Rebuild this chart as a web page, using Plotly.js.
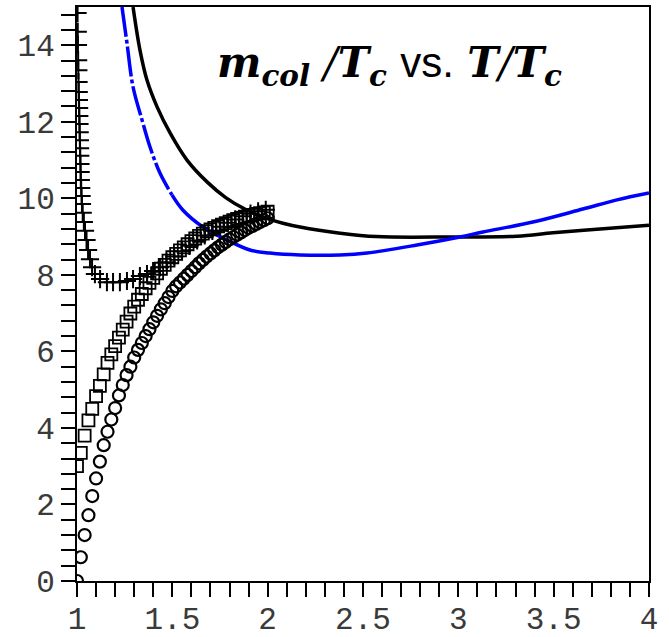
<!DOCTYPE html>
<html>
<head>
<meta charset="utf-8">
<script src="https://cdn.plot.ly/plotly-3.0.1.min.js"></script>
<style>html,body{margin:0;padding:0;background:#fff;}</style>
</head>
<body>
<div id="chart" style="width:669px;height:637px;"></div>
<script>
// x-axis tick labels
var xTickVals = [1, 1.5, 2, 2.5, 3, 3.5, 4];
var xTickText = ["1", "1.5", "2", "2.5", "3", "3.5", "4"];
var yTickVals = [0, 2, 4, 6, 8, 10, 12, 14];
var yTickText = ["0", "2", "4", "6", "8", "10", "12", "14"];

// black solid curve
var blackX = [1.294, 1.330, 1.367, 1.420, 1.488, 1.577, 1.682, 1.780, 1.880, 1.980, 2.080, 2.170, 2.380, 2.570, 2.960, 3.307, 3.496, 3.743, 4.0];
var blackY = [15.0, 13.88, 13.09, 12.39, 11.71, 11.0, 10.43, 10.02, 9.72, 9.50, 9.35, 9.25, 9.09, 9.00, 8.99, 9.01, 9.10, 9.20, 9.30];

// blue curve: dash-dot part
var blueDashX = [1.236, 1.262, 1.294, 1.341, 1.383, 1.435, 1.498];
var blueDashY = [15.0, 14.06, 12.91, 12.05, 11.34, 10.66, 10.09];
// blue curve: solid part
var blueSolidX = [1.498, 1.556, 1.661, 1.787, 1.907, 2.012, 2.169, 2.379, 2.521, 2.783, 3.008, 3.129, 3.391, 3.653, 3.832, 4.0];
var blueSolidY = [10.09, 9.69, 9.25, 8.91, 8.65, 8.57, 8.52, 8.52, 8.57, 8.78, 8.99, 9.12, 9.38, 9.72, 9.96, 10.14];

// plus markers
var plusX = [1.003, 1.004, 1.005, 1.006, 1.007, 1.008, 1.009, 1.010, 1.011, 1.012, 1.013, 1.014, 1.015, 1.016, 1.017, 1.018, 1.019, 1.020, 1.022, 1.024, 1.026, 1.030, 1.036, 1.042, 1.050, 1.058, 1.068, 1.079, 1.094, 1.121, 1.157, 1.189, 1.225, 1.262, 1.294, 1.330, 1.367, 1.399, 1.435, 1.47, 1.51, 1.55, 1.59, 1.63, 1.67, 1.71, 1.75, 1.79, 1.83, 1.87, 1.91, 1.95, 1.99];
var plusY = [14.84, 14.35, 14.01, 13.61, 13.35, 13.04, 12.78, 12.57, 12.36, 12.15, 11.94, 11.73, 11.52, 11.31, 11.11, 10.90, 10.69, 10.48, 10.27, 10.06, 9.85, 9.62, 9.38, 9.15, 8.91, 8.65, 8.41, 8.20, 8.02, 7.89, 7.81, 7.81, 7.81, 7.84, 7.89, 7.97, 8.02, 8.10, 8.20, 8.33, 8.48, 8.62, 8.76, 8.90, 9.03, 9.15, 9.26, 9.36, 9.45, 9.53, 9.60, 9.66, 9.70];

// squares and circles share the same T/Tc grid
var gridX = [1.00, 1.02, 1.04, 1.06, 1.08, 1.10, 1.12, 1.14, 1.16, 1.18, 1.20, 1.22, 1.24, 1.26, 1.28, 1.30, 1.32, 1.34, 1.36, 1.38, 1.40, 1.42, 1.44, 1.46, 1.48, 1.50, 1.52, 1.54, 1.56, 1.58, 1.60, 1.62, 1.64, 1.66, 1.68, 1.70, 1.72, 1.74, 1.76, 1.78, 1.80, 1.82, 1.84, 1.86, 1.88, 1.90, 1.92, 1.94, 1.96, 1.98, 2.00];
var squareY = [3.00, 3.35, 3.80, 4.20, 4.50, 4.83, 5.10, 5.40, 5.70, 5.92, 6.14, 6.36, 6.57, 6.78, 6.99, 7.17, 7.35, 7.50, 7.65, 7.79, 7.92, 8.04, 8.16, 8.26, 8.37, 8.46, 8.55, 8.64, 8.72, 8.80, 8.88, 8.95, 9.02, 9.08, 9.14, 9.19, 9.23, 9.27, 9.31, 9.35, 9.39, 9.43, 9.46, 9.49, 9.52, 9.55, 9.57, 9.59, 9.61, 9.63, 9.65];
var circleY = [0.00, 0.62, 1.20, 1.72, 2.22, 2.68, 3.12, 3.55, 3.90, 4.22, 4.52, 4.85, 5.12, 5.38, 5.60, 5.84, 6.04, 6.22, 6.40, 6.58, 6.76, 6.93, 7.10, 7.26, 7.42, 7.58, 7.70, 7.80, 7.90, 8.00, 8.10, 8.20, 8.30, 8.39, 8.48, 8.56, 8.64, 8.72, 8.79, 8.86, 8.93, 8.99, 9.05, 9.11, 9.17, 9.23, 9.28, 9.33, 9.38, 9.43, 9.48];

var traces = [
  {x: blackX, y: blackY, mode: 'lines', line: {color: '#000', width: 3.5, shape: 'spline', smoothing: 1}, hoverinfo: 'skip'},
  {x: blueDashX, y: blueDashY, mode: 'lines', line: {color: '#0000ff', width: 3.5, dash: '30px,3px,4px,3px', shape: 'spline'}, hoverinfo: 'skip'},
  {x: blueSolidX, y: blueSolidY, mode: 'lines', line: {color: '#0000ff', width: 3.5, shape: 'spline'}, hoverinfo: 'skip'},
  {x: plusX, y: plusY, mode: 'markers', marker: {symbol: 'cross-thin-open', size: 13, color: '#000', line: {color: '#000', width: 2}}, hoverinfo: 'skip'},
  {x: gridX, y: squareY, mode: 'markers', marker: {symbol: 'square-open', size: 12, color: '#000', line: {color: '#000', width: 1.8}}, hoverinfo: 'skip'},
  {x: gridX, y: circleY, mode: 'markers', marker: {symbol: 'circle-open', size: 12, color: '#000', line: {color: '#000', width: 2.2}}, hoverinfo: 'skip'}
];

var tickFont = {family: 'Liberation Mono, DejaVu Sans Mono, monospace', size: 31, color: '#3a3a3a'};

var layout = {
  width: 669, height: 637,
  margin: {l: 77, r: 20, t: 7, b: 56, pad: 0},
  paper_bgcolor: '#fff', plot_bgcolor: '#fff',
  showlegend: false,
  xaxis: {
    range: [1, 4], showgrid: false, zeroline: false,
    showline: true, linecolor: '#000', linewidth: 2, mirror: true,
    ticks: 'outside', ticklen: 14, tickwidth: 2, tickcolor: '#000',
    tickmode: 'array', tickvals: xTickVals, ticktext: xTickText,
    tickfont: tickFont, ticklabelstandoff: -5,
    minor: {tickmode: 'linear', tick0: 1, dtick: 0.1, ticks: 'outside', ticklen: 14, tickwidth: 2, tickcolor: '#000', showgrid: false}
  },
  yaxis: {
    range: [0, 15], showgrid: false, zeroline: false,
    showline: true, linecolor: '#000', linewidth: 2, mirror: true,
    ticks: 'outside', ticklen: 14, tickwidth: 2, tickcolor: '#000',
    tickmode: 'array', tickvals: yTickVals, ticktext: yTickText,
    tickfont: tickFont,
    minor: {tickmode: 'linear', tick0: 0, dtick: 0.4, ticks: 'outside', ticklen: 14, tickwidth: 2, tickcolor: '#000', showgrid: false}
  },
  annotations: [{
    xref: 'paper', yref: 'paper', x: 0.547, y: 0.898, xanchor: 'center', yanchor: 'middle', showarrow: false,
    font: {family: 'DejaVu Serif, serif', size: 42, color: '#000'},
    text: '<b><i>m</i></b><sub><b><i>col</i></b></sub> <i>/</i><b><i>T</i></b><sub><b><i>c</i></b></sub> <span style="font-family:Liberation Sans, Arial, sans-serif;">vs.</span> <b><i>T</i></b><i>/</i><b><i>T</i></b><sub><b><i>c</i></b></sub>'
  }]
};

Plotly.newPlot('chart', traces, layout, {displayModeBar: false, staticPlot: true});
</script>
</body>
</html>
